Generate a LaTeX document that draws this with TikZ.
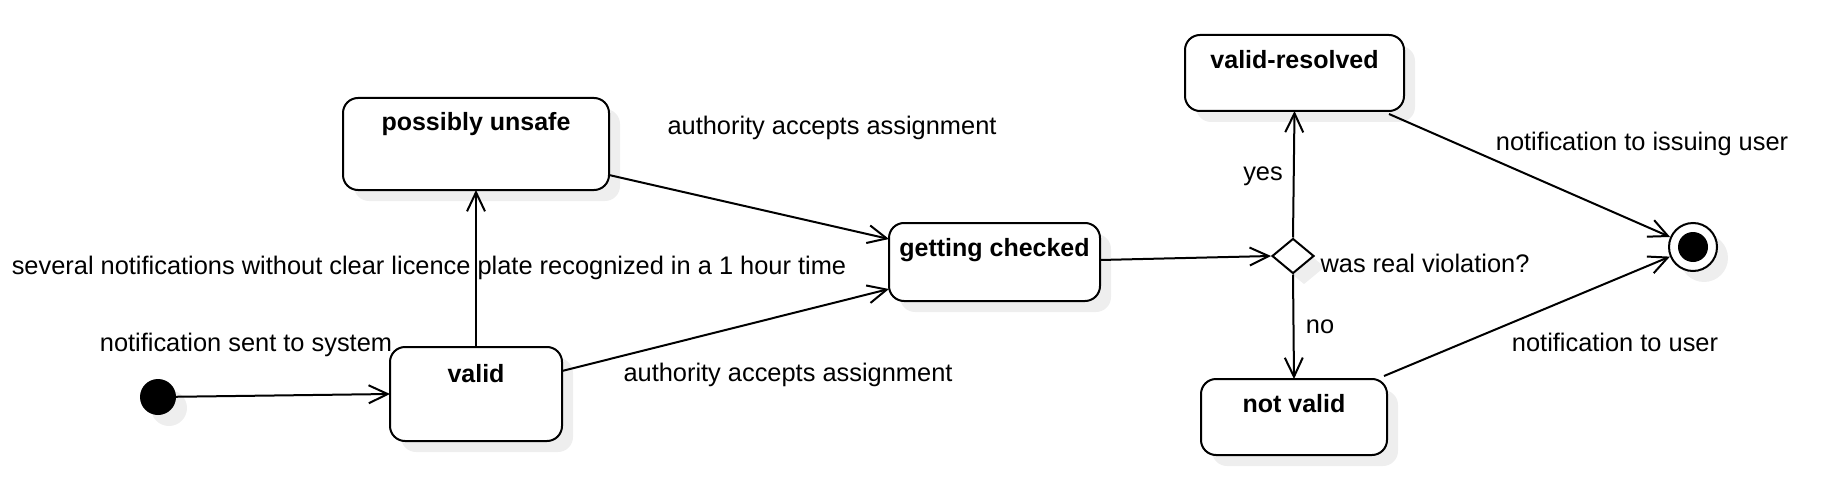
\documentclass[tikz,border=0pt]{standalone}
\usepackage{fontspec}
\setmainfont{Liberation Sans}
\usetikzlibrary{arrows.meta,shapes.geometric,calc,shadows}
\definecolor{shadowc}{HTML}{EEEEEE}
\begin{document}
\begin{tikzpicture}[x=1pt,y=-1pt,
  font=\fontsize{25.4pt}{30pt}\selectfont,
  lw/.style={line width=2pt},
  sh/.style={drop shadow={shadow xshift=11pt,shadow yshift=-11pt,fill=shadowc,opacity=1}},
  statebox/.style={draw,lw,rounded corners=15pt,fill=white,anchor=north west,inner sep=0pt,outer sep=0pt,sh},
  title/.style={anchor=base,font=\fontsize{25pt}{30pt}\selectfont\bfseries,inner sep=0pt},
  lbl/.style={anchor=center,inner sep=0pt,text height=18pt,text depth=5pt},
  conn/.style={lw,-{Straight Barb[length=19pt,width=18pt,line width=2pt]}}
]
\useasboundingbox (0,0) rectangle (1825,492);

% states
\node[statebox,minimum width=266pt,minimum height=92pt] (pu) at (343,98) {};
\node[statebox,minimum width=172pt,minimum height=94pt] (valid) at (390,347) {};
\node[statebox,minimum width=211pt,minimum height=78pt] (gc) at (889,223) {};
\node[statebox,minimum width=219pt,minimum height=76pt] (vr) at (1185,35) {};
\node[statebox,minimum width=186pt,minimum height=76pt] (nv) at (1201,379) {};

\node[title] (tpu) at ($(pu.north)+(0,33)$) {possibly unsafe};
\node[title] (tvalid) at ($(valid.north)+(0,35)$) {valid};
\node[title] (tgc) at ($(gc.north)+(0,33)$) {getting checked};
\node[title] (tvr) at ($(vr.north)+(0,34)$) {valid-resolved};
\node[title] (tnv) at ($(nv.north)+(0,33)$) {not valid};

% pseudo states
\node[circle,fill=black,minimum size=36pt,inner sep=0pt,sh] (init) at (158,397) {};
\node[diamond,draw,lw,fill=white,minimum width=42pt,minimum height=35pt,inner sep=0pt,aspect=1.2,sh] (dec) at (1293,256) {};
\node[circle,draw,lw,fill=white,minimum size=48pt,inner sep=0pt,sh] (final) at (1693,247) {};
\node[circle,fill=black,minimum size=30pt,inner sep=0pt] (finalin) at (final) {};

% connectors
\draw[conn] (init) -- (valid.west);
\draw[conn] (valid.north) -- (pu.south);
\draw[conn] ($(pu.north east)+(0,77)$) -- ($(gc.west)+(0,-23)$);
\draw[conn] ($(valid.east)+(0,-23)$) -- ($(gc.west)+(0,27)$);
\draw[conn] ($(gc.east)+(0,-2)$) -- (dec.west);
\draw[conn] (dec.north) -- (vr.south);
\draw[conn] (dec.south) -- (nv.north);
\draw[conn] ($(vr.south east)+(-15,3)$) -- (final);
\draw[conn] ($(nv.north east)+(-3,-3)$) -- (final);

% labels
\node[lbl] (l1) at (832,128) {authority accepts assignment};
\node[lbl] (l2) at (429,268) {several notifications without clear licence plate recognized in a 1 hour time};
\node[lbl] (l3) at (246,345) {notification sent to system};
\node[lbl] (l4) at (788,375) {authority accepts assignment};
\node[lbl] (l5) at (1263,174) {yes};
\node[lbl] (l6) at (1425,266) {was real violation?};
\node[lbl] (l7) at (1320,327) {no};
\node[lbl] (l8) at (1642,144) {notification to issuing user};
\node[lbl] (l9) at (1615,345) {notification to user};
\end{tikzpicture}
\end{document}
